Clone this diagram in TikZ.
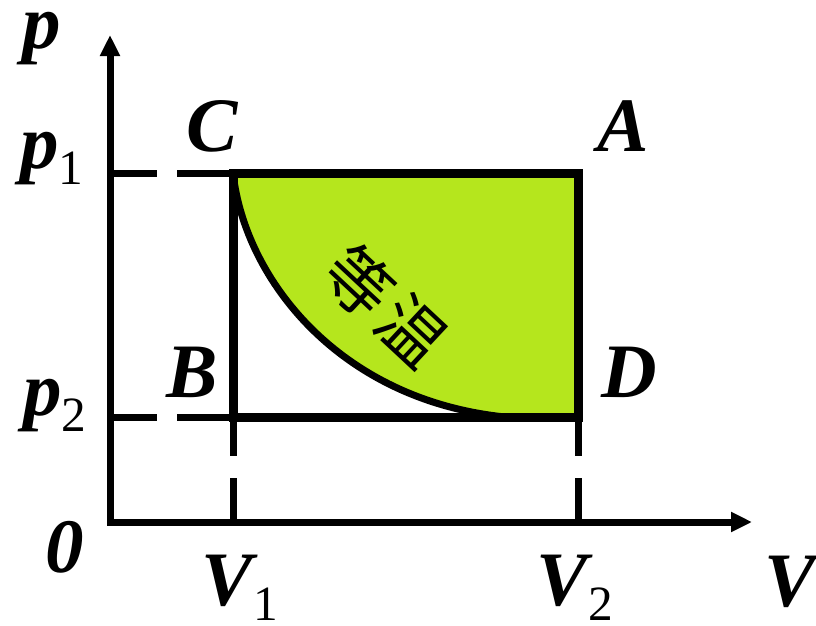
\documentclass[tikz,border=0pt]{standalone}
\usepackage{fontspec}
\setmainfont{Liberation Serif}
\newfontfamily\cjk{Noto Sans CJK SC}
\usetikzlibrary{arrows.meta}
\definecolor{isogreen}{RGB}{181,230,29}
\newcommand{\mainsz}{\fontsize{57.75pt}{60pt}\selectfont}
\newcommand{\subsz}{\fontsize{37pt}{38pt}\selectfont}
\newcommand{\lab}[1]{{\mainsz\bfseries\itshape #1}}
\newcommand{\labsub}[2]{{\mainsz\bfseries\itshape #1}\raisebox{-11.5pt}{\subsz #2}}
\begin{document}
\begin{tikzpicture}[x=0.75pt,y=-0.75pt,
  axisline/.style={line width=5.25pt, line join=miter},
  frameline/.style={line width=6.75pt, line join=miter},
  guideline/.style={line width=5.25pt},
  curveline/.style={line width=5.25pt},
  lbl/.style={inner sep=0pt, anchor=center}]
\useasboundingbox (0,0) rectangle (816,625);
\coordinate (O) at (110,522);
\coordinate (Ytip) at (110,35);
\coordinate (Xtip) at (752,522);
\coordinate (C) at (233,173);
\coordinate (A) at (578,173);
\coordinate (D) at (578,417);
\coordinate (B) at (233,417);
\coordinate (E) at (505,417);
% green area
\fill[isogreen] (C) .. controls (245,280) and (340,400) .. (E) -- (D) -- (A) -- cycle;
% axes
\draw[axisline, {Triangle[length=15.75pt,width=14.25pt]}-{Triangle[length=15.75pt,width=14.25pt]}] (Ytip) -- (O) -- (Xtip);
% guide dashes
\coordinate (p1a) at (110,173); \coordinate (p1b) at (157,173); \coordinate (p1c) at (177,173);
\coordinate (p2a) at (110,417); \coordinate (p2b) at (157,417); \coordinate (p2c) at (177,417);
\coordinate (v1a) at (233,456); \coordinate (v1b) at (233,478); \coordinate (v1c) at (233,522);
\coordinate (v2a) at (578,456); \coordinate (v2b) at (578,478); \coordinate (v2c) at (578,522);
\draw[guideline] (p1a) -- (p1b) (p1c) -- (C);
\draw[guideline] (p2a) -- (p2b) (p2c) -- (B);
\draw[guideline] (B) -- (v1a) (v1b) -- (v1c);
\draw[guideline] (D) -- (v2a) (v2b) -- (v2c);
% isotherm
\draw[curveline] (C) .. controls (245,280) and (340,400) .. (E);
% rectangle
\draw[frameline] (C) -- (A) -- (D) -- (B) -- cycle;
% labels
\node[lbl] (lp) at (42,39) {\lab{p}};
\node[lbl] (lp1) at (52,159) {\labsub{p}{1}};
\node[lbl] (lp2) at (55,406) {\labsub{p}{2}};
\node[lbl] (lC) at (212,126) {\lab{C}};
\node[lbl] (lA) at (623,126) {\lab{A}};
\node[lbl] (lB) at (192,372) {\lab{B}};
\node[lbl] (lD) at (629,372) {\lab{D}};
\node[lbl] (l0) at (65,547) {\lab{0}};
\node[lbl] (lV1) at (240,588) {\labsub{V}{1}};
\node[lbl] (lV2) at (575,588) {\labsub{V}{2}};
\node[lbl] (lV) at (790,582) {\lab{V}};
\node[lbl, rotate=-43] (iso) at (386,306) {\cjk\fontsize{50pt}{51pt}\selectfont 等\hspace{4pt}温};
\end{tikzpicture}
\end{document}
